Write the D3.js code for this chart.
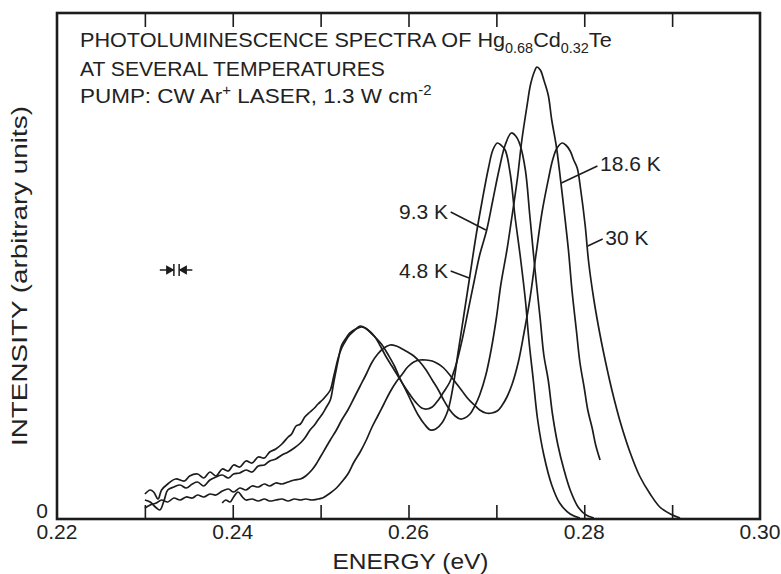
<!DOCTYPE html>
<html>
<head>
<meta charset="utf-8">
<script src="https://cdn.jsdelivr.net/npm/d3@7"></script>
<style>
  html, body { margin: 0; padding: 0; background: #fff; }
  svg { display: block; }
  text { font-family: "Liberation Sans", Arial, sans-serif; fill: #222; }
</style>
</head>
<body>
<svg id="chart" width="781" height="574"></svg>
<script>
// Photoluminescence spectra of Hg0.68Cd0.32Te: energy (eV) vs intensity (arbitrary units)
const temperatures = ["4.8 K", "9.3 K", "18.6 K", "30 K"];

const spectrum4_8K = [
  [0.2300,5.0],[0.2306,5.8],[0.2310,5.4],[0.2315,4.0],[0.2319,5.8],[0.2326,7.0],[0.2335,8.0],[0.2345,7.6],
  [0.2351,8.6],[0.2360,9.0],[0.2367,8.2],[0.2374,9.4],[0.2381,8.6],[0.2388,10.0],[0.2395,9.6],[0.2401,10.8],
  [0.2408,10.4],[0.2415,11.6],[0.2422,11.2],[0.2429,12.4],[0.2436,12.2],[0.2442,13.4],[0.2449,14.0],[0.2456,15.0],
  [0.2463,16.4],[0.2467,17.0],[0.2472,18.6],[0.2477,19.0],[0.2482,20.4],[0.2488,21.4],[0.2493,22.2],[0.2497,23.0],
  [0.2502,23.8],[0.2506,24.6],[0.2511,25.8],[0.2515,28.6],[0.2520,32.2],[0.2524,34.2],[0.2529,35.8],[0.2533,36.8],
  [0.2539,37.8],[0.2545,38.6],[0.2551,38.2],[0.2556,37.4],[0.2563,36.2],[0.2570,34.8],[0.2577,32.8],[0.2584,30.6],
  [0.2590,28.2],[0.2597,25.8],[0.2604,23.2],[0.2611,20.8],[0.2618,19.0],[0.2625,17.8],[0.2631,18.0],[0.2638,19.2],
  [0.2645,21.8],[0.2651,26.8],[0.2656,32.8],[0.2663,40.8],[0.2670,48.8],[0.2677,56.8],[0.2684,63.8],[0.2691,70.2],
  [0.2696,73.8],[0.2701,75.2],[0.2705,74.8],[0.2710,73.8],[0.2716,68.8],[0.2721,60.8],[0.2727,52.8],[0.2733,43.8],
  [0.2737,35.8],[0.2742,27.8],[0.2747,19.8],[0.2754,12.8],[0.2763,6.8],[0.2772,3.2],[0.2784,1.0],[0.2795,0.2]
];

const spectrum9_3K = [
  [0.2300,3.8],[0.2306,3.4],[0.2312,2.4],[0.2317,1.8],[0.2322,3.8],[0.2326,5.8],[0.2333,6.4],[0.2340,6.8],
  [0.2347,6.2],[0.2354,7.0],[0.2360,7.4],[0.2367,6.6],[0.2374,7.8],[0.2381,8.4],[0.2388,8.8],[0.2395,8.2],
  [0.2401,9.0],[0.2408,9.2],[0.2415,9.8],[0.2422,9.4],[0.2429,10.6],[0.2436,10.8],[0.2442,11.6],[0.2449,12.0],
  [0.2456,12.8],[0.2463,13.4],[0.2470,14.2],[0.2477,15.2],[0.2482,16.2],[0.2488,17.8],[0.2493,18.8],[0.2497,19.8],
  [0.2502,21.0],[0.2506,22.2],[0.2511,23.8],[0.2515,27.4],[0.2520,31.8],[0.2524,34.8],[0.2529,36.2],[0.2533,37.2],
  [0.2540,38.0],[0.2547,38.4],[0.2554,37.8],[0.2561,36.6],[0.2568,34.6],[0.2574,32.6],[0.2581,30.6],[0.2588,28.6],
  [0.2595,26.6],[0.2602,24.8],[0.2609,23.2],[0.2615,22.2],[0.2621,22.0],[0.2627,22.4],[0.2634,23.8],[0.2640,25.4],
  [0.2647,27.4],[0.2654,30.8],[0.2661,35.8],[0.2668,41.8],[0.2675,47.8],[0.2681,52.8],[0.2689,57.8],[0.2696,63.8],
  [0.2703,69.8],[0.2710,74.8],[0.2717,77.2],[0.2722,76.6],[0.2727,74.8],[0.2733,69.8],[0.2738,60.8],[0.2744,49.8],
  [0.2750,39.8],[0.2754,32.8],[0.2759,27.8],[0.2764,20.8],[0.2770,14.8],[0.2777,9.8],[0.2784,5.8],[0.2793,2.4],
  [0.2802,0.8],[0.2811,0.2]
];

const spectrum18_6K = [
  [0.2300,2.2],[0.2306,2.8],[0.2313,3.2],[0.2319,3.8],[0.2326,3.4],[0.2333,4.2],[0.2340,3.8],[0.2347,4.4],
  [0.2354,4.2],[0.2360,4.8],[0.2367,4.4],[0.2374,5.0],[0.2381,4.8],[0.2388,5.6],[0.2395,6.0],[0.2401,5.4],
  [0.2408,6.2],[0.2415,5.8],[0.2422,6.6],[0.2429,6.4],[0.2436,7.0],[0.2442,6.6],[0.2449,7.2],[0.2456,7.0],
  [0.2463,7.4],[0.2470,7.8],[0.2477,8.0],[0.2483,8.6],[0.2490,9.8],[0.2495,11.0],[0.2499,12.2],[0.2505,14.0],
  [0.2511,15.8],[0.2518,17.8],[0.2524,19.8],[0.2531,21.8],[0.2538,24.2],[0.2545,26.6],[0.2552,29.0],[0.2558,31.2],
  [0.2565,33.0],[0.2572,34.2],[0.2579,34.8],[0.2586,34.6],[0.2593,34.0],[0.2599,33.4],[0.2606,32.6],[0.2613,31.4],
  [0.2620,29.8],[0.2627,27.8],[0.2634,25.8],[0.2640,23.8],[0.2647,21.8],[0.2653,20.6],[0.2659,20.0],[0.2664,20.2],
  [0.2670,21.0],[0.2676,22.8],[0.2681,24.8],[0.2688,28.8],[0.2694,33.8],[0.2700,40.2],[0.2705,46.8],[0.2712,53.8],
  [0.2718,60.8],[0.2724,68.2],[0.2729,75.8],[0.2735,82.8],[0.2739,87.0],[0.2744,89.8],[0.2746,90.4],[0.2750,89.8],
  [0.2754,87.8],[0.2759,84.8],[0.2763,79.8],[0.2768,74.8],[0.2772,69.4],[0.2777,61.8],[0.2782,53.8],[0.2786,45.8],
  [0.2791,37.8],[0.2795,31.4],[0.2800,26.2],[0.2804,21.8],[0.2809,18.2],[0.2813,14.8],[0.2818,11.8]
];

const spectrum30K = [
  [0.2388,3.2],[0.2392,3.8],[0.2397,3.4],[0.2401,4.4],[0.2406,5.4],[0.2411,4.4],[0.2415,3.8],[0.2422,4.0],
  [0.2429,3.6],[0.2436,4.0],[0.2442,3.6],[0.2449,3.8],[0.2456,4.0],[0.2463,3.6],[0.2470,4.0],[0.2477,3.8],
  [0.2483,4.0],[0.2490,3.8],[0.2497,4.0],[0.2502,4.2],[0.2506,4.6],[0.2511,5.2],[0.2518,6.2],[0.2524,7.4],
  [0.2531,9.0],[0.2538,11.4],[0.2545,13.4],[0.2552,15.8],[0.2558,18.2],[0.2565,20.6],[0.2572,23.0],[0.2579,25.4],
  [0.2586,27.4],[0.2593,29.0],[0.2599,30.4],[0.2606,31.4],[0.2613,31.8],[0.2620,31.8],[0.2627,31.6],[0.2634,31.0],
  [0.2640,30.2],[0.2647,28.8],[0.2654,27.2],[0.2661,25.6],[0.2668,24.0],[0.2675,22.8],[0.2681,21.8],[0.2688,21.2],
  [0.2695,21.2],[0.2701,21.6],[0.2706,22.6],[0.2712,24.4],[0.2718,27.0],[0.2725,31.4],[0.2731,36.8],[0.2738,43.8],
  [0.2745,52.8],[0.2752,61.4],[0.2759,67.8],[0.2764,71.8],[0.2769,74.2],[0.2775,75.2],[0.2779,74.8],[0.2784,73.6],
  [0.2788,71.8],[0.2792,70.2],[0.2796,65.8],[0.2801,58.8],[0.2805,51.4],[0.2811,43.8],[0.2818,36.8],[0.2825,30.8],
  [0.2832,25.4],[0.2841,19.4],[0.2852,13.4],[0.2863,8.6],[0.2875,5.0],[0.2886,2.4],[0.2898,1.0],[0.2909,0.2]
];

const spectra = [spectrum4_8K, spectrum9_3K, spectrum18_6K, spectrum30K];

// temperature labels: text anchor [energy, intensity], anchor side, leader line from -> to
const labelAnchors = [[0.2645,48.2],[0.2645,60.0],[0.2818,69.6],[0.2824,54.8]];
const labelSides = ["end","end","start","start"];
const leaderStarts = [[0.2648,49.6],[0.2648,61.4],[0.2815,70.6],[0.2821,56.0]];
const leaderEnds = [[0.2669,48.2],[0.2688,57.8],[0.2774,67.2],[0.2804,54.6]];

// spectral resolution marker
const resolutionBars = [0.2333, 0.2339];
const resolutionTails = [0.2317, 0.2354];
const resolutionLevel = 49.8;

const energyDomain = [0.22, 0.30];
const intensityDomain = [0, 101.2];
const majorTicks = [0.22, 0.24, 0.26, 0.28, 0.30];
const allTicks = [0.23, 0.24, 0.25, 0.26, 0.27, 0.28, 0.29];
const tickLabels = ["0.22", "0.24", "0.26", "0.28", "0.30"];
const yTickLabels = ["0"];

const titleLines = [
  [["PHOTOLUMINESCENCE SPECTRA OF Hg",""],["0.68","sub"],["Cd",""],["0.32","sub"],["Te",""]],
  [["AT SEVERAL TEMPERATURES",""]],
  [["PUMP: CW Ar",""],["+","sup"],[" LASER, 1.3 W cm",""],["-2","sup"]]
];
const xAxisTitle = "ENERGY (eV)";
const yAxisTitle = "INTENSITY (arbitrary units)";

// ---------- drawing ----------
const svg = d3.select("#chart");
const ink = "#1c1c1c";

const x = d3.scaleLinear().domain(energyDomain).range([57, 760]);
const y = d3.scaleLinear().domain(intensityDomain).range([519, 13]);

const x0 = x.range()[0], x1 = x.range()[1];
const yb = y(0), yt = y(intensityDomain[1]);

// bottom and top axes: ticks pointing inward
const bottomAxis = d3.axisBottom(x).tickValues(allTicks).tickSize(-14).tickFormat("");
svg.append("g").attr("transform", `translate(0,${yb})`).call(bottomAxis)
  .call(g => g.select(".domain").remove())
  .call(g => g.selectAll("line").attr("stroke", ink).attr("stroke-width", 1.6));

const topAxis = d3.axisTop(x).tickValues(allTicks).tickSize(-14).tickFormat("");
svg.append("g").attr("transform", `translate(0,${yt})`).call(topAxis)
  .call(g => g.select(".domain").remove())
  .call(g => g.selectAll("line").attr("stroke", ink).attr("stroke-width", 1.6));

// tick labels
svg.append("g").selectAll("text").data(majorTicks).join("text")
  .attr("x", d => x(d)).attr("y", yb + 20)
  .attr("text-anchor", "middle").attr("font-size", 21)
  .text((d, i) => tickLabels[i]);

svg.append("text").attr("x", x0 - 9).attr("y", y(0) - 1)
  .attr("text-anchor", "end").attr("font-size", 21).text(yTickLabels[0]);

// frame
svg.append("rect").attr("x", x0).attr("y", yt).attr("width", x1 - x0).attr("height", yb - yt)
  .attr("fill", "none").attr("stroke", ink).attr("stroke-width", 2.6);

// spectra
const line = d3.line().x(d => x(d[0])).y(d => y(d[1])).curve(d3.curveCatmullRom.alpha(0.5));
svg.append("g").selectAll("path").data(spectra).join("path")
  .attr("d", line).attr("fill", "none").attr("stroke", ink)
  .attr("stroke-width", 1.7).attr("stroke-linejoin", "round");

// temperature labels with leaders
svg.append("g").selectAll("line").data(leaderStarts).join("line")
  .attr("x1", d => x(d[0])).attr("y1", d => y(d[1]))
  .attr("x2", (d, i) => x(leaderEnds[i][0])).attr("y2", (d, i) => y(leaderEnds[i][1]))
  .attr("stroke", ink).attr("stroke-width", 1.5);

svg.append("g").selectAll("text").data(temperatures).join("text")
  .attr("x", (d, i) => x(labelAnchors[i][0])).attr("y", (d, i) => y(labelAnchors[i][1]))
  .attr("text-anchor", (d, i) => labelSides[i]).attr("font-size", 21)
  .text(d => d);

// resolution marker  ->| |<-
const rl = y(resolutionLevel);
const rg = svg.append("g").attr("stroke", ink).attr("stroke-width", 1.5).attr("fill", ink);
resolutionBars.forEach((b, i) => {
  const bx = x(b), tx = x(resolutionTails[i]);
  const dir = i === 0 ? 1 : -1;
  rg.append("line").attr("x1", bx).attr("x2", bx).attr("y1", rl - 6).attr("y2", rl + 6);
  rg.append("line").attr("x1", tx).attr("x2", bx - dir * 1).attr("y1", rl).attr("y2", rl);
  rg.append("path").attr("d", `M${bx - dir},${rl} L${bx - dir * 7},${rl - 3.5} L${bx - dir * 7},${rl + 3.5} Z`);
});

// title block: subscripts drop, superscripts rise, following text returns to the baseline
const titleBaselines = [47, 76, 103];
const titleTargets = [532, 305, 352];
const shiftOf = { sub: 6, sup: -8, "": 0 };
titleLines.forEach((parts, li) => {
  const t = svg.append("text").attr("x", 80).attr("y", titleBaselines[li]).attr("font-size", 21);
  let shift = 0;
  parts.forEach(([s, kind]) => {
    const target = shiftOf[kind];
    const ts = t.append("tspan").attr("dy", target - shift).text(s);
    if (kind) ts.attr("font-size", 14);
    shift = target;
  });
  const w = t.node().getBBox().width;
  const s = titleTargets[li] / w;
  t.attr("transform", `translate(80,0) scale(${s},1) translate(-80,0)`);
});

// axis titles
svg.append("text").attr("x", (x0 + x1) / 2 + 2).attr("y", 569)
  .attr("text-anchor", "middle").attr("font-size", 22)
  .attr("textLength", 156).attr("lengthAdjust", "spacingAndGlyphs")
  .text(xAxisTitle);

svg.append("text").attr("transform", `translate(27,${(yb + yt) / 2 + 10}) rotate(-90)`)
  .attr("text-anchor", "middle").attr("font-size", 22)
  .attr("textLength", 340).attr("lengthAdjust", "spacingAndGlyphs")
  .text(yAxisTitle);
</script>
</body>
</html>
